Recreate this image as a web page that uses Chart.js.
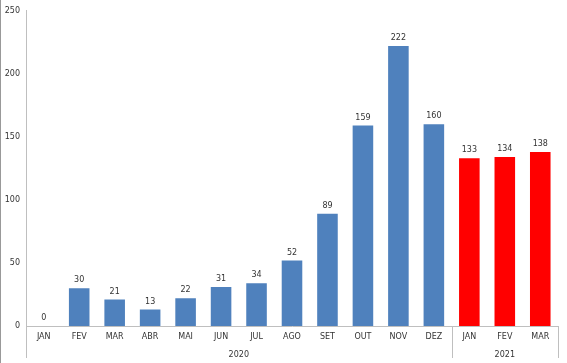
<!DOCTYPE html>
<html>
<head>
<meta charset="utf-8">
<script src="https://cdn.jsdelivr.net/npm/chart.js@4"></script>
<style>
  html, body { margin: 0; padding: 0; background: #fff; }
  #wrap { width: 567px; height: 363px; }
</style>
</head>
<body>
<div id="wrap"><canvas id="myChart" width="567" height="363"></canvas></div>
<script>
'use strict';

// data
let months = ['JAN', 'FEV', 'MAR', 'ABR', 'MAI', 'JUN', 'JUL', 'AGO', 'SET', 'OUT', 'NOV', 'DEZ', 'JAN', 'FEV', 'MAR'];
let cases = [0, 30, 21, 13, 22, 31, 34, 52, 89, 159, 222, 160, 133, 134, 138];
let years = ['2020', '2021'];
let yearCounts = [12, 3];
let yTicks = [0, 50, 100, 150, 200, 250];

let barColors = [];
for (let i = 0; i < yearCounts.length; i++) {
  for (let j = 0; j < yearCounts[i]; j++) {
    barColors.push(i === 0 ? '#4F81BD' : '#FF0000');
  }
}

// labels above bars + year groups under the axis
const extras = {
  id: 'extras',
  afterDatasetsDraw(chart) {
    const ctx = chart.ctx;
    const meta = chart.getDatasetMeta(0);
    ctx.save();
    ctx.fillStyle = '#333';
    ctx.font = '8px "DejaVu Sans", sans-serif';
    ctx.textAlign = 'center';
    ctx.textBaseline = 'bottom';
    meta.data.forEach((bar, i) => {
      ctx.fillText(cases[i], bar.x, bar.y - 4);
    });
    ctx.restore();
  },
  afterDraw(chart) {
    const ctx = chart.ctx;
    const x = chart.scales.x;
    const area = chart.chartArea;
    const step = x.getPixelForValue(1) - x.getPixelForValue(0);
    ctx.save();
    ctx.strokeStyle = '#bfbfbf';
    ctx.lineWidth = 1;
    // left axis extension
    ctx.beginPath();
    ctx.moveTo(area.left + 0.5, area.bottom);
    ctx.lineTo(area.left + 0.5, area.bottom + 32);
    ctx.stroke();
    // frame edge
    ctx.strokeStyle = '#999';
    ctx.beginPath();
    ctx.moveTo(0.5, 0);
    ctx.lineTo(0.5, chart.height);
    ctx.stroke();

    ctx.fillStyle = '#333';
    ctx.font = '8px "DejaVu Sans", sans-serif';
    ctx.textAlign = 'center';
    ctx.textBaseline = 'middle';
    let start = 0;
    for (let i = 0; i < years.length; i++) {
      let end = start + yearCounts[i] - 1;
      let left = x.getPixelForValue(start) - step / 2;
      let right = x.getPixelForValue(end) + step / 2;
      ctx.fillText(years[i], (left + right) / 2, area.bottom + 29);
      if (i > 0 || true) {
        ctx.strokeStyle = '#bfbfbf';
        ctx.beginPath();
        ctx.moveTo(Math.round(right) + 0.5, area.bottom);
        ctx.lineTo(Math.round(right) + 0.5, area.bottom + 32);
        ctx.stroke();
      }
      start = end + 1;
    }
    ctx.restore();
  }
};

const config = {
  type: 'bar',
  data: {
    labels: months,
    datasets: [{
      data: cases,
      backgroundColor: barColors,
      borderWidth: 0,
      categoryPercentage: 1,
      barPercentage: 0.58
    }]
  },
  options: {
    responsive: false,
    animation: false,
    layout: { padding: { top: 8, right: 9, left: 0, bottom: 0 } },
    plugins: {
      legend: { display: false },
      tooltip: { enabled: false }
    },
    scales: {
      x: {
        grid: { display: false, drawTicks: false },
        border: { color: '#bfbfbf' },
        ticks: {
          color: '#333',
          font: { size: 8, family: '"DejaVu Sans", sans-serif' },
          padding: 6,
          maxRotation: 0,
          autoSkip: false
        },
        afterFit(scale) { scale.height = 37; }
      },
      y: {
        min: 0,
        max: 250,
        grid: { display: false, drawTicks: false },
        border: { color: '#bfbfbf' },
        afterBuildTicks(scale) { scale.ticks = yTicks.map(v => ({ value: v })); },
        ticks: {
          color: '#333',
          font: { size: 8, family: '"DejaVu Sans", sans-serif' },
          padding: 6
        },
        afterFit(scale) { scale.width = 26; }
      }
    }
  },
  plugins: [extras]
};

const myChart = new Chart(document.getElementById('myChart'), config);
</script>
</body>
</html>
